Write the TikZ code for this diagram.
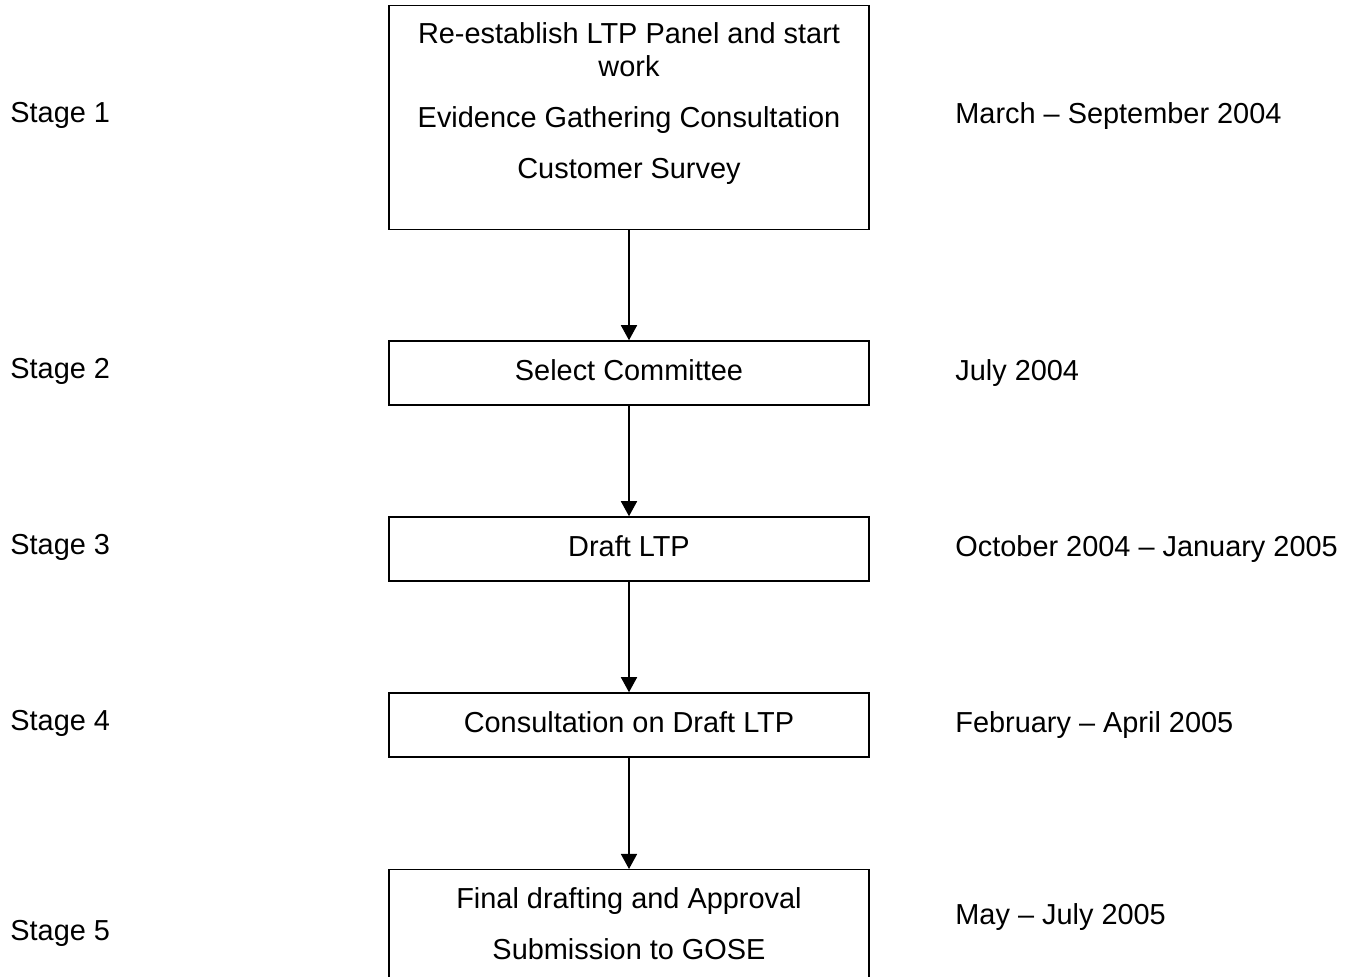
\documentclass[tikz,border=0pt]{standalone}
\usepackage{fontspec}
\setmainfont{Liberation Sans}
\usetikzlibrary{arrows.meta, positioning}

\begin{document}
\begin{tikzpicture}[x=0.5pt,y=-0.5pt,
    font=\fontsize{14.45}{16.5}\selectfont,
    stagebox/.style={draw, line width=0.75pt, minimum width=240pt, inner sep=0pt, text height=11pt, text depth=3.5pt},
    boxtext/.style={align=center, inner sep=0pt},
    side/.style={anchor=base west, inner sep=0pt},
    flow/.style={-{Triangle[width=8pt,length=7.5pt]}, line width=0.75pt}]
    \clip (0,0) rectangle (1357,977);

      % the stage boxes
      \node[stagebox, minimum height=112pt, anchor=north] (s1) at (629,5) {};
      \node[boxtext] (s1_text) [below=8.5pt of s1.north] {Re-establish LTP Panel and start\\work\\[9pt]Evidence Gathering Consultation\\[9pt]Customer Survey};
      \node[stagebox, minimum height=32pt] (s2) at (629,373) {Select Committee};
      \node[stagebox, minimum height=32pt] (s3) at (629,549) {Draft LTP};
      \node[stagebox, minimum height=32pt] (s4) at (629,725) {Consultation on Draft LTP};
      \node[stagebox, minimum height=70pt, anchor=north] (s5) at (629,869) {};
      \node[boxtext] (s5_text) [below=9pt of s5.north] {Final drafting and Approval\\[9pt]Submission to GOSE};

      % stage names
      \node[side] (st1) at (10,123) {Stage 1};
      \node[side] (st2) at (10,379) {Stage 2};
      \node[side] (st3) at (10,555) {Stage 3};
      \node[side] (st4) at (10,731) {Stage 4};
      \node[side] (st5) at (10,941) {Stage 5};

      % dates
      \node[side] (d1) at (955,124) {March – September 2004};
      \node[side] (d2) at (955,381) {July 2004};
      \node[side] (d3) at (955,557) {October 2004 – January 2005};
      \node[side] (d4) at (955,733) {February – April 2005};
      \node[side] (d5) at (955,925) {May – July 2005};

      \path[flow] (s1) edge (s2)
                  (s2) edge (s3)
                  (s3) edge (s4)
                  (s4) edge (s5);
    \end{tikzpicture}
\end{document}
